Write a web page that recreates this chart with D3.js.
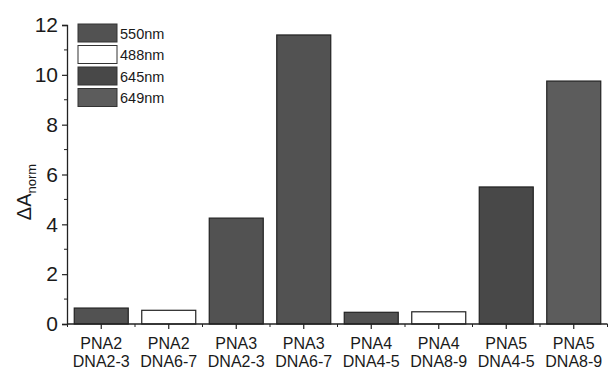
<!DOCTYPE html>
<html>
<head>
<meta charset="utf-8">
<script src="https://cdn.jsdelivr.net/npm/d3@7"></script>
<style>
  html, body { margin: 0; padding: 0; background: #fff; }
  svg { display: block; }
  text { font-family: "Liberation Sans", Arial, sans-serif; fill: #1a1a1a; }
</style>
</head>
<body>
<svg id="chart" width="609" height="371"></svg>
<script>
// Probe / target pairs along the x axis
const probes   = ["PNA2", "PNA2", "PNA3", "PNA3", "PNA4", "PNA4", "PNA5", "PNA5"];
const targets  = ["DNA2-3", "DNA6-7", "DNA2-3", "DNA6-7", "DNA4-5", "DNA8-9", "DNA4-5", "DNA8-9"];
// Normalised absorbance change for each pair
const deltaA   = [0.64, 0.55, 4.25, 11.6, 0.47, 0.49, 5.5, 9.75];
// Detection wavelength used for each pair
const waveUsed = ["550nm", "488nm", "550nm", "550nm", "550nm", "488nm", "645nm", "649nm"];
// Legend entries
const wavelengths = ["550nm", "488nm", "645nm", "649nm"];
const waveFill    = ["#525252", "#ffffff", "#484848", "#5c5c5c"];
const yTicks      = [0, 2, 4, 6, 8, 10, 12];

const svg = d3.select("#chart");
const margin = { left: 67, right: 1.5, top: 25, bottom: 47 };
const W = 609, H = 371;

const x = d3.scaleBand()
  .domain(d3.range(probes.length))
  .range([margin.left + 0.5, W - margin.right])
  .paddingInner(0.2)
  .paddingOuter(0.1);

const y = d3.scaleLinear()
  .domain([0, 12])
  .range([H - margin.bottom, margin.top]);

const color = d3.scaleOrdinal().domain(wavelengths).range(waveFill);

// Bars
svg.append("g")
  .selectAll("rect")
  .data(deltaA)
  .join("rect")
  .attr("x", (d, i) => x(i))
  .attr("y", d => y(d))
  .attr("width", x.bandwidth())
  .attr("height", d => y(0) - y(d))
  .attr("fill", (d, i) => color(waveUsed[i]))
  .attr("stroke", "#222")
  .attr("stroke-width", 1.2);

// Y axis
const yAxis = svg.append("g")
  .attr("transform", `translate(${margin.left},0)`)
  .call(d3.axisLeft(y).tickValues(yTicks).tickSize(5).tickPadding(4).tickFormat(d3.format("d")));
yAxis.select(".domain").attr("stroke", "#222").attr("stroke-width", 1.3);
yAxis.selectAll(".tick line").attr("stroke", "#222").attr("stroke-width", 1.2);
yAxis.selectAll(".tick text")
  .style("font-family", "'Liberation Sans', Arial, sans-serif")
  .attr("font-size", 21)
  .attr("fill", "#1a1a1a");

// Minor y ticks
svg.append("g")
  .selectAll("line")
  .data(d3.range(1, 12, 2))
  .join("line")
  .attr("x1", margin.left - 3).attr("x2", margin.left)
  .attr("y1", d => y(d)).attr("y2", d => y(d))
  .attr("stroke", "#222").attr("stroke-width", 1);

// X axis baseline with major ticks at bar centres and minor ticks between
const x0 = y(0);
svg.append("line")
  .attr("x1", margin.left).attr("x2", W - margin.right)
  .attr("y1", x0).attr("y2", x0)
  .attr("stroke", "#222").attr("stroke-width", 1.3);

const centres = d3.range(probes.length).map(i => x(i) + x.bandwidth() / 2);
svg.append("g")
  .selectAll("line")
  .data(centres)
  .join("line")
  .attr("x1", d => d).attr("x2", d => d)
  .attr("y1", x0).attr("y2", x0 + 5)
  .attr("stroke", "#222").attr("stroke-width", 1.2);

const step = x.step();
const firstEdge = x(0) - x.paddingOuter() * step;
svg.append("g")
  .selectAll("line")
  .data(d3.range(probes.length + 1).map(i => firstEdge + i * step))
  .join("line")
  .attr("x1", d => d).attr("x2", d => d)
  .attr("y1", x0).attr("y2", x0 + 3)
  .attr("stroke", "#222").attr("stroke-width", 1);

// Category labels (two lines)
const lab = svg.append("g")
  .selectAll("text")
  .data(d3.range(probes.length))
  .join("text")
  .attr("text-anchor", "middle")
  .attr("font-size", 16);
lab.append("tspan")
  .attr("x", i => centres[i])
  .attr("y", 349)
  .text(i => probes[i]);
lab.append("tspan")
  .attr("x", i => centres[i])
  .attr("y", 367)
  .text(i => targets[i]);

// Y axis title: ΔA with subscript "norm"
const yt = svg.append("text")
  .attr("transform", "translate(31,192) rotate(-90)")
  .attr("text-anchor", "middle")
  .attr("font-size", 20);
yt.append("tspan").text("ΔA");
yt.append("tspan")
  .attr("font-size", 13)
  .attr("dy", 5)
  .text("norm");

// Legend
const leg = svg.append("g")
  .selectAll("g")
  .data(wavelengths)
  .join("g")
  .attr("transform", (d, i) => `translate(78,${24 + i * 21.5})`);
leg.append("rect")
  .attr("width", 39)
  .attr("height", 18)
  .attr("fill", d => color(d))
  .attr("stroke", "#333")
  .attr("stroke-width", 1);
leg.append("text")
  .attr("x", 42)
  .attr("y", 14.5)
  .attr("font-size", 14.5)
  .text(d => d);
</script>
</body>
</html>
